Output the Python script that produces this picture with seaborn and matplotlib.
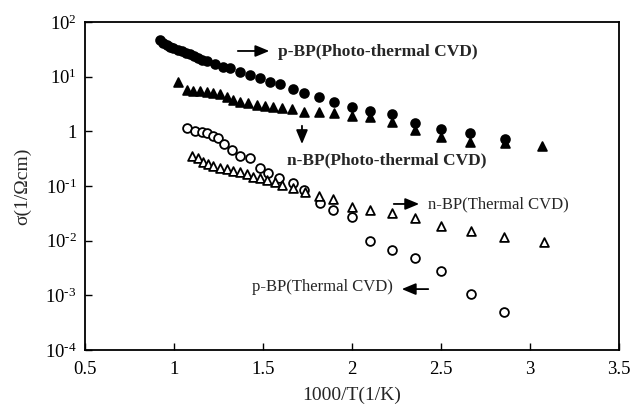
import pandas as pd
import matplotlib
matplotlib.use("Agg")
import matplotlib.pyplot as plt
import seaborn as sns

# DONNEES

# p-BP (Photo-thermal CVD) : cercles pleins
x_p_photo = [0.921, 0.94, 0.961, 0.978, 0.994, 1.02, 1.045, 1.068, 1.09, 1.112, 1.135,
             1.16, 1.185, 1.23, 1.275, 1.315, 1.371, 1.427, 1.483, 1.539, 1.596,
             1.669, 1.730, 1.815, 1.899, 2.0, 2.101, 2.225, 2.354, 2.5, 2.663, 2.86]
s_p_photo = [46.9, 42.0, 37.9, 35.5, 33.4, 31.3, 29.5, 27.6, 26.0, 23.8, 21.9,
             20.5, 19.3, 17.1, 15.0, 14.4, 12.2, 10.7, 9.5, 8.0, 7.3,
             5.95, 5.0, 4.25, 3.44, 2.79, 2.35, 2.08, 1.42, 1.10, 0.93, 0.72]

# n-BP (Photo-thermal CVD) : triangles pleins
x_n_photo = [1.022, 1.073, 1.107, 1.146, 1.185, 1.219, 1.258, 1.298, 1.331, 1.371,
             1.416, 1.466, 1.511, 1.556, 1.607, 1.663, 1.730, 1.815, 1.899, 2.0,
             2.101, 2.225, 2.354, 2.5, 2.663, 2.86, 3.07]
s_n_photo = [7.98, 5.70, 5.47, 5.47, 5.25, 5.03, 4.82, 4.25, 3.74, 3.44,
             3.30, 3.03, 2.91, 2.79, 2.67, 2.56, 2.26, 2.26, 2.16, 1.91,
             1.83, 1.48, 1.06, 0.79, 0.64, 0.61, 0.54]

# p-BP (Thermal CVD) : cercles vides
x_p_therm = [1.073, 1.118, 1.157, 1.185, 1.219, 1.247, 1.281, 1.326, 1.371, 1.427,
             1.483, 1.528, 1.590, 1.669, 1.730, 1.820, 1.893, 2.0, 2.101, 2.225,
             2.354, 2.5, 2.669, 2.854]
s_p_therm = [1.15, 1.01, 0.97, 0.93, 0.82, 0.76, 0.59, 0.46, 0.35, 0.325,
             0.21, 0.173, 0.14, 0.114, 0.085, 0.049, 0.036, 0.027, 0.0099, 0.0068,
             0.0048, 0.0028, 0.00106, 0.000496]

# n-BP (Thermal CVD) : triangles vides
x_n_therm = [1.101, 1.135, 1.163, 1.191, 1.219, 1.258, 1.298, 1.331, 1.371, 1.410,
             1.444, 1.483, 1.522, 1.567, 1.607, 1.669, 1.736, 1.815, 1.893, 2.0,
             2.101, 2.225, 2.354, 2.5, 2.669, 2.854, 3.079]
s_n_therm = [0.354, 0.325, 0.275, 0.253, 0.232, 0.213, 0.205, 0.188, 0.180, 0.166,
             0.146, 0.140, 0.129, 0.118, 0.104, 0.092, 0.078, 0.066, 0.058, 0.041,
             0.036, 0.032, 0.026, 0.0186, 0.0150, 0.0117, 0.0095]

x_ticks = [0.5, 1, 1.5, 2, 2.5, 3, 3.5]
x_tick_labels = ["0.5", "1", "1.5", "2", "2.5", "3", "3.5"]
y_ticks = [1e2, 1e1, 1, 1e-1, 1e-2, 1e-3, 1e-4]
y_tick_labels = [r"$\mathregular{10^{2}}$", r"$\mathregular{10^{1}}$", "1",
                 r"$\mathregular{10^{\text{-}1}}$", r"$\mathregular{10^{\text{-}2}}$",
                 r"$\mathregular{10^{\text{-}3}}$", r"$\mathregular{10^{\text{-}4}}$"]

# tableau long pour seaborn
frames = []
for name, xs, ss in [("p_photo", x_p_photo, s_p_photo),
                     ("n_photo", x_n_photo, s_n_photo),
                     ("p_therm", x_p_therm, s_p_therm),
                     ("n_therm", x_n_therm, s_n_therm)]:
    frames.append(pd.DataFrame({"x": xs, "sigma": ss, "serie": name}))
df = pd.concat(frames, ignore_index=True)

# STYLE

sns.set_style("ticks")
plt.rcParams["font.family"] = ["Liberation Serif", "DejaVu Serif"]
plt.rcParams["mathtext.fontset"] = "custom"
plt.rcParams["mathtext.rm"] = "Liberation Serif"

fig = plt.figure(figsize=(6.32, 4.09), dpi=100)
ax = fig.add_axes([0.1345, 0.1443, 0.8449, 0.8019])

styles = {
    "p_photo": dict(marker="o", facecolor="black"),
    "n_photo": dict(marker="^", facecolor="black"),
    "p_therm": dict(marker="o", facecolor="white"),
    "n_therm": dict(marker="^", facecolor="white"),
}
for name, st in styles.items():
    sns.scatterplot(data=df[df["serie"] == name], x="x", y="sigma", ax=ax,
                    marker=st["marker"], color=st["facecolor"], edgecolor="black",
                    linewidth=1.3, s=40, legend=False, zorder=3)

ax.set_yscale("log")
ax.set_xlim(0.5, 3.5)
ax.set_ylim(1e-4, 1e2)
ax.set_xticks(x_ticks)
ax.set_xticklabels(x_tick_labels)
ax.set_yticks(y_ticks)
ax.set_yticklabels(y_tick_labels)
ax.minorticks_off()
ax.tick_params(direction="in", length=5, width=1, labelsize=13.5, colors="black")
ax.tick_params(axis="x", pad=8)
ax.tick_params(axis="y", pad=6)
for sp in ax.spines.values():
    sp.set_linewidth(1.3)
    sp.set_color("black")

ax.set_xlabel("1000/T(1/K)", fontsize=14, labelpad=6)
ax.set_ylabel("σ(1/Ωcm)", fontsize=14, labelpad=10)

# ANNOTATIONS (fleches + textes)

arrow = dict(arrowstyle="-|>,head_length=0.6,head_width=0.25", color="black",
             lw=1.3, mutation_scale=14)
ax.annotate("", xy=(1.551, 29.5), xytext=(1.343, 29.5), arrowprops=arrow)
ax.text(1.584, 28.3, "p-BP(Photo-thermal CVD)", fontsize=12.5, fontweight="bold",
        va="center", ha="left")

ax.annotate("", xy=(1.719, 0.52), xytext=(1.719, 1.42), arrowprops=arrow)
ax.text(1.635, 0.30, "n-BP(Photo-thermal CVD)", fontsize=12.5, fontweight="bold",
        va="center", ha="left")

ax.annotate("", xy=(2.393, 0.0469), xytext=(2.219, 0.0469), arrowprops=arrow)
ax.text(2.427, 0.0469, "n-BP(Thermal CVD)", fontsize=12, va="center", ha="left")

ax.text(1.438, 0.00142, "p-BP(Thermal CVD)", fontsize=12, va="center", ha="left")
ax.annotate("", xy=(2.264, 0.0013), xytext=(2.444, 0.0013), arrowprops=arrow)

fig.savefig("out.png", dpi=100)
